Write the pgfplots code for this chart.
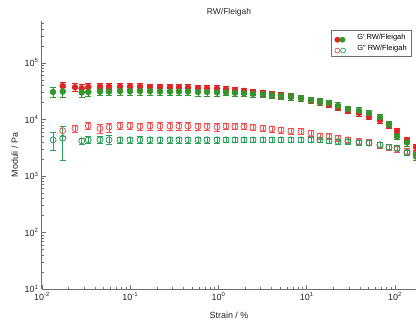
\documentclass[border=0pt]{standalone}
\usepackage{fontspec}
\setmainfont{Liberation Sans}
\usepackage{pgfplots}
\usepackage{pgfplotstable}
\pgfplotsset{compat=1.18}
\definecolor{redF}{RGB}{225,35,35}
\definecolor{greenF}{RGB}{50,150,45}
\definecolor{redO}{RGB}{238,80,80}
\definecolor{greenO}{RGB}{40,160,90}
\definecolor{axgray}{RGB}{110,110,110}

\pgfplotstableread{
x y e
0.01717 39000 0.15
0.02366 37000 0.15
0.02818 35500 0.15
0.03348 37500 0.15
0.04539 38000 0.12
0.05741 38000 0.12
0.07656 38000 0.12
0.09931 38000 0.12
0.1290 38000 0.12
0.1675 37500 0.12
0.2173 37500 0.12
0.2818 37000 0.12
0.3565 37000 0.12
0.4508 36500 0.12
0.5862 36000 0.12
0.7419 35500 0.12
0.9616 35000 0.12
1.2162 34000 0.12
1.538 33000 0.12
1.945 32000 0.12
2.460 30500 0.12
3.192 29500 0.12
4.037 28000 0.12
5.106 26500 0.12
6.630 25000 0.12
8.609 23500 0.12
11.17 21500 0.12
14.13 20000 0.12
17.87 18500 0.12
22.60 16500 0.12
29.32 14500 0.12
39.08 13000 0.12
50.75 11200 0.12
67.59 9700 0.12
85.49 8000 0.12
105.4 6250 0.12
136.8 4300 0.12
173.0 3250 0.12
}\GpRed

\pgfplotstableread{
x y e
0.01333 30500 0.20
0.01717 31000 0.20
0.02818 30000 0.18
0.03348 30500 0.18
0.04539 31000 0.15
0.05741 31000 0.15
0.07656 31500 0.15
0.09931 31500 0.15
0.1290 31500 0.15
0.1675 31500 0.15
0.2173 31000 0.15
0.2818 31000 0.15
0.3565 31000 0.15
0.4508 31000 0.15
0.5862 30500 0.15
0.7419 30500 0.15
0.9616 30000 0.15
1.2162 30000 0.13
1.538 29600 0.13
1.945 29000 0.13
2.460 28300 0.13
3.192 27900 0.13
4.037 27000 0.13
5.106 26000 0.13
6.630 25000 0.13
8.609 23700 0.13
11.17 22100 0.13
14.13 20600 0.13
17.87 19500 0.13
22.60 17400 0.13
29.32 15300 0.13
39.08 14300 0.13
50.75 12900 0.13
67.59 10900 0.13
85.49 8200 0.13
105.4 5000 0.13
136.8 3900 0.13
173.0 2200 0.13
}\GpGreen

\pgfplotstableread{
x y e
0.01717 6300 0.20
0.02366 6900 0.15
0.03348 7700 0.15
0.04539 6900 0.18
0.05741 7300 0.18
0.07656 7750 0.15
0.09931 7750 0.15
0.1290 7500 0.15
0.1675 7600 0.15
0.2173 7600 0.15
0.2818 7600 0.15
0.3565 7600 0.15
0.4508 7600 0.15
0.5862 7500 0.15
0.7419 7500 0.15
0.9616 7300 0.15
1.2162 7600 0.12
1.538 7460 0.12
1.945 7460 0.12
2.460 7200 0.12
3.192 6990 0.12
4.037 6800 0.12
5.106 6520 0.12
6.630 6200 0.12
8.609 6090 0.12
11.17 5690 0.12
14.13 5100 0.12
17.87 4950 0.12
22.60 4650 0.12
29.32 4340 0.12
39.08 4050 0.12
50.75 3900 0.12
67.59 3540 0.12
85.49 3220 0.12
105.4 2970 0.12
136.8 2690 0.12
173.0 2450 0.12
}\GppRed

\pgfplotstableread{
x y e
0.01333 4350 0.35
0.01717 4650 0.59
0.02818 4170 0.12
0.03348 4350 0.15
0.04539 4350 0.15
0.05741 4350 0.18
0.07656 4350 0.12
0.09931 4350 0.12
0.1290 4350 0.15
0.1675 4350 0.12
0.2173 4350 0.12
0.2818 4350 0.12
0.3565 4350 0.12
0.4508 4350 0.12
0.5862 4350 0.12
0.7419 4350 0.12
0.9616 4350 0.12
1.2162 4340 0.10
1.538 4340 0.10
1.945 4340 0.10
2.460 4340 0.10
3.192 4340 0.10
4.037 4340 0.10
5.106 4340 0.10
6.630 4340 0.10
8.609 4340 0.10
11.17 4340 0.10
14.13 4340 0.10
17.87 4200 0.10
22.60 4050 0.10
29.32 4050 0.10
39.08 3900 0.10
50.75 3790 0.10
67.59 3540 0.10
85.49 3220 0.10
105.4 3100 0.10
136.8 2600 0.10
173.0 2350 0.10
}\GppGreen

\pgfplotsset{
  ebars/.style={error bars/y dir=both, error bars/y explicit relative,
    error bars/error bar style={#1, line width=0.8pt},
    error bars/error mark options={rotate=90, mark size=3pt, #1, line width=0.8pt}},
}

\begin{document}
\begin{tikzpicture}
\begin{axis}[
  name=ax,
  scale only axis,
  width=374bp, height=268bp,
  xmode=log, ymode=log,
  xmin=0.01, xmax=173,
  ymin=10, ymax=550000,
  axis x line=bottom, axis y line=left,
  axis line style={-, axgray, line width=1pt},
  tick align=inside,
  major tick length=4pt, minor tick length=2.5pt,
  tick style={axgray, line width=0.6pt},
  ticklabel style={font=\fontsize{9}{10}\selectfont, text=black!85},
  log number format basis/.code 2 args={#1\textsuperscript{\pgfmathprintnumber[assume math mode=true]{#2}}},
  xlabel={Strain / \%},
  ylabel={Moduli / Pa},
  xlabel style={font=\fontsize{9}{10}\selectfont, text=black!85, yshift=-5bp},
  ylabel style={font=\fontsize{9}{10}\selectfont, text=black!85},
  title={RW/Fleigah},
  title style={font=\fontsize{8.5}{9}\selectfont, text=black!85, yshift=-5bp},
  legend style={at={(0.989,0.966)}, anchor=north east, draw=axgray,
    font=\fontsize{7.5}{8}\selectfont, inner xsep=3pt, inner ysep=2pt, nodes={anchor=base west}},
]
\addlegendimage{legend image code/.code={
  \path[draw=none, fill=none] (0cm,0cm) -- (0.75cm,0cm);
  \draw[redF, mark=*, mark size=2.7pt, mark options={fill=redF}, only marks] plot coordinates {(0.12cm,0cm)};
  \draw[greenF, mark=*, mark size=2.7pt, mark options={fill=greenF}, only marks] plot coordinates {(0.3cm,0cm)};}}
\addlegendentry{G′ RW/Fleigah}
\addlegendimage{legend image code/.code={
  \path[draw=none, fill=none] (0cm,0cm) -- (0.75cm,0cm);
  \draw[redO, mark=o, mark size=2.5pt, mark options={line width=0.7pt}, only marks] plot coordinates {(0.12cm,0cm)};
  \draw[greenO, mark=o, mark size=2.5pt, mark options={line width=0.7pt}, only marks] plot coordinates {(0.32cm,0cm)};}}
\addlegendentry{G″ RW/Fleigah}
\addplot[only marks, mark=*, mark size=3pt, color=redF, mark options={fill=redF, draw=redF}, ebars=redF, forget plot]
  table[x=x, y=y, y error=e] {\GpRed};
\addplot[only marks, mark=*, mark size=3pt, color=greenF, mark options={fill=greenF, draw=greenF}, ebars=greenF, forget plot]
  table[x=x, y=y, y error=e] {\GpGreen};
\addplot[only marks, mark=o, mark size=3pt, color=redO, mark options={draw=redO, line width=0.8pt}, ebars=redO, forget plot]
  table[x=x, y=y, y error=e] {\GppRed};
\addplot[only marks, mark=o, mark size=3pt, color=greenO, mark options={draw=greenO, line width=0.8pt}, ebars=greenO, forget plot]
  table[x=x, y=y, y error=e] {\GppGreen};
\end{axis}
\pgfresetboundingbox
\path[use as bounding box] ([xshift=-42bp,yshift=-34bp]ax.south west) rectangle ([yshift=21bp]ax.north east);
\end{tikzpicture}
\end{document}
